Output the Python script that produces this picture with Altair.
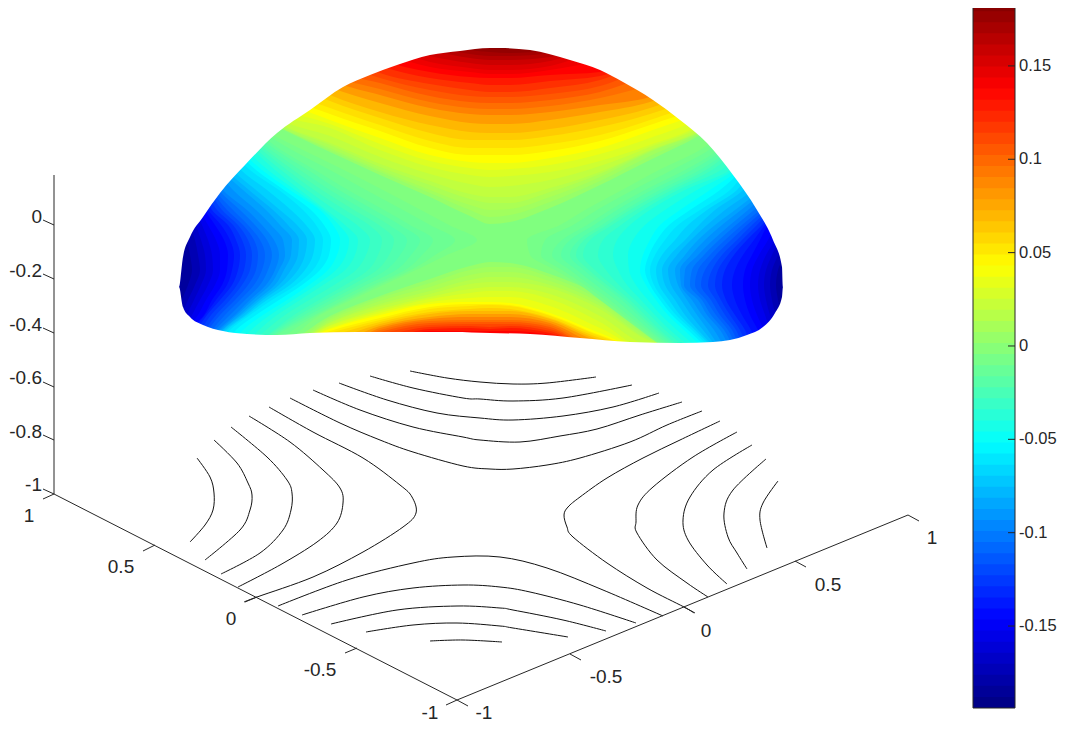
import altair as alt
import pandas as pd

FONT = "Liberation Sans"
INK = "#262626"

# ---- plane of the drawing (projected 3-D view) ----
X_DOM = [8, 1057]
Y_DOM = [722, 8]
xs = alt.Scale(domain=X_DOM, nice=False, zero=False)
ys = alt.Scale(domain=Y_DOM, nice=False, zero=False)

# ---- colour map (jet) and colour bar ----
Z_MIN, Z_MAX = -0.1939, 0.1853
jet_z = [-0.1939, -0.1465, -0.0517, 0.0431, 0.1379, 0.1853]
jet_c = ["#000080", "#0000ff", "#00ffff", "#ffff00", "#ff0000", "#800000"]
cs = alt.Scale(domain=jet_z, range=jet_c, interpolate="rgb", clamp=True)
cb_edges = [-.1939,-.1880,-.1820,-.1761,-.1702,-.1643,-.1584,-.1524,-.1465,-.1406,-.1347,-.1287,-.1228,
            -.1169,-.1110,-.1050,-.0991,-.0932,-.0873,-.0813,-.0754,-.0695,-.0636,-.0576,-.0517,-.0458,
            -.0399,-.0339,-.0280,-.0221,-.0162,-.0103,-.0043,.0016,.0075,.0134,.0194,.0253,.0312,.0371,
            .0431,.0490,.0549,.0608,.0668,.0727,.0786,.0845,.0905,.0964,.1023,.1082,.1142,.1201,.1260,
            .1319,.1379,.1438,.1497,.1556,.1615,.1675,.1734,.1793,.1853]
cb_ticks = [-0.15, -0.1, -0.05, 0, 0.05, 0.1, 0.15]
cb_labels = ["-0.15", "-0.1", "-0.05", "0", "0.05", "0.1", "0.15"]
CB_L, CB_R, CB_TICK = 973, 1015, 1008
CB_TEXT = 1019

# ---- silhouette of the surface ----
edge_top_x = [170,179,183,190,203,220,245,277,310,343,370,397,430,460,490,500,530,570,600,623,653,680,707,733,757,773,782,783,792]
edge_top_y = [287,287,257,237,217,193,165,133,110,87,75,65,55,51,48,48,50,60,70,82,100,120,143,175,210,240,267,287,287]
edge_bot_x = [170,179,183,190,203,223,247,277,310,357,403,453,490,530,580,630,680,713,747,763,775,782,783,792]
edge_bot_y = [287,287,307,317,325,331,334,335,333,332,332,332,333,334,338,342,343,342,335,327,313,297,287,287]
SADDLE_Z = -0.004

# ---- positive level regions, above and below the saddle ----
col_x = [179,230,280,330,380,430,470,490,510,550,600,650,700,750,783]
top_levels = [.004,.008,.012,.016,.02,.025,.03,.036,.043,.049,.055,.062,.07,.08,.09,.097,.105,.112,.12,.129,.138,.144,.15,.157,.165,.172,.178,.183]
top_y = [
 [70,100,128,152,175,197,216,224,222,208,185,160,135,100,60],
 [67,97,127,150,172,193,210,217,215,202,181,156,133,97,60],
 [65,95,127,148,170,190,205,210,209,197,177,152,132,95,60],
 [62,92,125,145,167,185,199,203,203,192,174,151,131,92,60],
 [60,90,124,143,164,181,194,197,197,188,172,150,130,90,60],
 [57,87,120,136,157,174,184,187,186,180,166,147,127,87,57],
 [55,85,115,128,150,167,175,177,176,172,161,145,125,85,55],
 [52,77,108,124,144,161,168,170,169,165,154,138,118,82,52],
 [50,70,100,120,138,155,162,163,163,158,148,131,112,80,50],
 [45,60,94,114,131,148,155,155,155,151,141,125,106,70,45],
 [40,50,88,108,125,141,148,148,148,144,135,120,100,60,40],
 [35,45,79,101,118,133,140,140,140,136,127,114,94,55,35],
 [30,40,70,95,112,125,132,133,133,129,120,108,88,50,30],
 [30,35,60,87,103,116,123,124,124,120,112,102,81,45,30],
 [30,30,50,80,95,108,114,115,115,112,105,97,75,40,30],
 [30,30,45,75,89,102,108,109,109,106,98,85,67,35,30],
 [30,30,40,70,83,96,102,103,103,100,92,75,60,30,30],
 [30,30,35,60,78,90,96,97,97,94,86,67,50,30,30],
 [30,30,30,50,73,84,90,92,92,88,80,60,40,30,30],
 [30,30,30,45,66,78,83,85,85,81,76,55,35,30,30],
 [30,30,30,40,60,72,77,78,78,75,72,50,30,30,30],
 [30,30,30,35,52,67,72,74,74,70,60,42,30,30,30],
 [30,30,30,30,45,62,68,70,70,66,50,35,30,30,30],
 [30,30,30,30,40,56,63,65,65,61,45,32,30,30,30],
 [30,30,30,30,35,50,58,60,60,57,40,30,30,30,30],
 [30,30,30,30,32,45,54,56,56,53,37,30,30,30,30],
 [30,30,30,30,30,40,50,52,53,50,35,30,30,30,30],
 [30,30,30,30,30,35,44,48,49,45,32,30,30,30,30],
]
bot_levels = [.004,.008,.012,.016,.02,.025,.03,.036,.043,.049,.055,.062,.07,.08,.09,.097,.105,.112,.12,.129,.138]
bot_y = [
 [350,350,345,316,296,279,266,262,263,274,296,332,350,350,350],
 [350,350,348,318,298,283,270,267,267,277,300,335,350,350,350],
 [350,350,350,320,301,287,275,272,272,281,303,338,350,350,350],
 [350,350,350,322,304,291,280,277,277,285,306,340,350,350,350],
 [350,350,350,323,306,294,284,282,282,288,309,341,350,350,350],
 [350,350,350,325,309,297,289,287,287,294,316,346,350,350,350],
 [350,350,350,326,311,299,293,291,291,299,322,350,350,350,350],
 [350,350,350,328,313,302,298,297,297,306,328,350,350,350,350],
 [350,350,350,329,315,304,302,302,303,313,333,350,350,350,350],
 [350,350,350,331,318,307,304,304,305,315,335,350,350,350,350],
 [350,350,350,333,320,309,306,305,306,316,336,350,350,350,350],
 [350,350,350,336,322,312,309,308,309,318,338,350,350,350,350],
 [350,350,350,340,324,314,311,311,311,319,340,350,350,350,350],
 [350,350,350,345,326,317,314,314,314,321,342,350,350,350,350],
 [350,350,350,350,328,319,317,317,317,323,345,350,350,350,350],
 [350,350,350,350,330,321,320,320,320,325,348,350,350,350,350],
 [350,350,350,350,332,323,322,322,322,327,350,350,350,350,350],
 [350,350,350,350,334,325,324,324,324,329,350,350,350,350,350],
 [350,350,350,350,337,327,326,327,326,331,350,350,350,350,350],
 [350,350,350,350,341,329,328,329,328,333,350,350,350,350,350],
 [350,350,350,350,345,331,331,331,331,335,350,350,350,350,350],
]

# ---- negative level regions, left and right of the saddle ----
row_y = [130,150,170,190,210,225,240,255,270,285,300,315,330,345]
side_levels = [-.008,-.0115,-.015,-.0185,-.022,-.026,-.03,-.035,-.04,-.046,-.052,-.058,-.063,-.069,-.075,-.081,
               -.087,-.093,-.099,-.105,-.11,-.116,-.122,-.128,-.135,-.141,-.1465,-.153,-.16,-.167,-.175,-.183]
left_x = [
 [263,303,344,383,421,449,477,447,416,383,351,320,301,285],
 [259,292,330,366,403,430,455,435,411,378,347,317,293,274],
 [255,281,315,348,384,410,433,422,405,373,343,314,285,262],
 [251,276,308,339,374,400,420,411,396,366,337,309,282,260],
 [247,271,300,330,364,389,407,400,386,359,331,304,279,258],
 [243,266,293,322,354,379,394,389,377,352,325,299,276,256],
 [240,262,287,314,345,369,382,378,368,345,319,294,274,255],
 [236,257,281,307,335,357,370,366,356,334,309,285,266,250],
 [232,253,275,300,326,345,358,355,345,323,300,277,259,246],
 [228,246,268,295,323,339,349,346,336,316,293,270,251,239],
 [225,240,262,290,320,333,340,337,328,309,287,263,243,232],
 [221,236,256,284,311,324,331,329,320,302,279,256,236,227],
 [218,232,250,279,303,316,323,321,313,296,272,250,230,222],
 [214,227,241,267,291,306,315,313,305,290,267,247,227,218],
 [210,222,233,256,280,297,307,305,298,284,263,245,225,215],
 [207,218,227,249,273,288,299,298,291,279,260,242,223,212],
 [205,215,222,243,266,280,292,291,284,275,257,240,222,210],
 [202,211,218,233,256,271,283,285,279,270,253,237,220,207],
 [200,208,214,223,247,262,274,279,275,266,250,235,218,205],
 [197,205,211,219,240,255,267,272,268,260,245,230,215,202],
 [195,203,208,215,233,248,260,265,262,254,240,225,212,200],
 [192,200,205,212,227,243,254,258,256,248,235,220,208,197],
 [190,198,203,210,222,238,248,252,250,242,230,216,205,195],
 [187,195,200,207,217,233,242,246,244,237,225,211,201,192],
 [185,193,198,205,212,228,236,240,238,232,220,207,197,190],
 [182,190,195,201,208,221,230,234,232,227,216,205,193,187],
 [180,188,193,198,205,215,224,228,227,222,212,204,190,185],
 [179,184,189,194,200,208,216,220,220,215,206,198,187,182],
 [179,180,185,190,196,202,208,212,213,208,200,192,185,180],
 [179,179,182,185,190,196,201,205,206,201,194,187,182,179],
 [179,179,179,180,185,190,195,198,200,195,188,182,179,179],
 [179,179,179,179,180,183,187,190,192,188,182,179,179,179],
]
right_x = [
 [725,700,659,622,585,560,527,530,555,580,600,620,640,660],
 [730,709,672,633,597,573,545,541,562,585,605,624,643,663],
 [735,718,685,645,610,587,562,552,570,590,610,628,647,666],
 [737,723,692,652,617,594,570,561,577,596,616,633,650,669],
 [740,728,700,660,625,602,579,570,584,603,622,638,654,672],
 [742,731,706,666,630,607,584,576,589,607,626,641,657,675],
 [745,735,712,672,636,612,590,583,595,612,630,645,660,678],
 [747,738,721,678,643,621,603,598,606,619,635,650,665,683],
 [750,742,730,685,650,630,617,613,618,627,641,655,670,688],
 [752,746,734,697,665,645,633,628,629,636,648,661,677,694],
 [755,750,738,710,680,660,650,643,640,646,656,668,684,700],
 [757,752,741,720,690,669,657,649,645,650,660,672,688,704],
 [760,755,745,730,700,678,665,655,650,654,664,676,692,707],
 [762,757,748,737,707,688,675,662,656,659,669,680,695,710],
 [765,760,752,743,715,699,685,670,662,665,675,685,698,712],
 [770,767,763,752,725,707,691,677,668,671,681,691,703,715],
 [775,775,775,760,735,715,698,685,675,678,687,697,708,718],
 [777,777,777,765,741,722,705,691,680,681,692,702,714,723],
 [780,780,780,770,748,730,713,698,685,684,698,707,720,728],
 [783,783,783,777,754,736,719,704,692,690,702,711,724,732],
 [783,783,783,783,760,742,725,710,698,695,706,716,728,735],
 [783,783,783,783,764,747,731,716,705,701,711,720,732,738],
 [783,783,783,783,768,752,737,722,712,708,716,725,736,742],
 [783,783,783,783,771,757,742,728,718,715,721,730,740,746],
 [783,783,783,783,775,762,747,734,725,722,726,735,745,750],
 [783,783,783,783,779,765,754,743,735,732,735,742,751,757],
 [783,783,783,783,783,768,760,752,745,743,745,750,758,765],
 [783,783,783,783,783,776,768,759,752,750,752,757,764,770],
 [783,783,783,783,783,783,775,766,760,758,760,765,770,775],
 [783,783,783,783,783,783,779,772,766,764,766,770,776,779],
 [783,783,783,783,783,783,783,778,772,770,772,776,783,783],
 [783,783,783,783,783,783,783,783,778,776,778,781,783,783],
]

# ---- contour lines on the floor ----
contours = [
 [(410,371),(447,378),(480,382),(513,384),(547,383),(596,377)],
 [(370,376),(413,388),(463,398),(480,399),(513,401),(563,398),(632,385)],
 [(339,383),(387,400),(437,413),(480,418),(513,420),(563,416),(613,407),(659,393)],
 [(313,390),(360,410),(413,427),(463,437),(480,440),(520,442),(560,436),(597,429),(640,415),(682,402)],
 [(290,398),(340,423),(380,440),(413,452),(463,466),(490,469),(513,469),(547,465),(580,458),(630,442),(667,425),(702,411)],
 [(269,407),(313,432),(363,458),(400,485),(412,497),(416,513),(403,527),(363,552),(313,577),(257,597),(244,602)],
 [(249,416),(290,442),(323,470),(340,488),(343,503),(337,523),(317,542),(280,565),(238,587)],
 [(231,427),(267,457),(287,480),(292,493),(291,510),(283,530),(260,553),(221,574)],
 [(214,440),(237,463),(248,483),(252,495),(250,510),(240,530),(205,560)],
 [(197,458),(210,477),(214,493),(213,510),(205,525),(190,542)],
 [(720,421),(680,440),(643,458),(607,478),(580,497),(568,507),(564,515),(567,527),(573,537),(607,563),(647,588),(684,607),(694,613)],
 [(737,432),(693,457),(653,487),(638,505),(636,522),(637,533),(657,560),(687,583),(708,597)],
 [(752,445),(713,470),(690,497),(683,520),(688,540),(707,565),(727,584)],
 [(766,459),(733,490),(724,513),(728,537),(737,553),(747,569)],
 [(778,481),(763,503),(760,520),(767,548)],
 [(278,606),(347,580),(413,563),(453,557),(500,557),(547,568),(603,590),(663,616)],
 [(302,615),(363,597),(413,588),(463,585),(500,587),(530,592),(580,605),(636,623)],
 [(331,624),(397,610),(457,606),(500,608),(513,610),(563,620),(606,631)],
 [(366,632),(413,625),(457,623),(500,626),(513,628),(568,637)],
 [(430,641),(463,640),(502,642)],
]

# ---- projected axes ----
axis_segments = [
 [(54,175),(54,494)], [(54,494),(457,700)], [(457,700),(908,515)],
 [(54,225),(43,220)], [(54,279),(43,274)], [(54,333),(43,328)], [(54,387),(43,382)], [(54,440),(43,435)], [(54,494),(43,489)],
 [(54,494),(43,499)], [(155,545),(143,551)], [(257,597),(245,602)], [(357,648),(345,653)], [(457,700),(446,705)],
 [(457,700),(468,706)], [(570,654),(581,660)], [(684,607),(695,613)], [(795,561),(806,567)], [(908,515),(919,521)],
]
axis_labels = ["0","-0.2","-0.4","-0.6","-0.8","-1"]
axis_label_y = [217,271,325,378,432,485]
AXIS_LABEL_X = 42
floor_labels = ["1","0.5","0","-0.5","-1","-1","-0.5","0","0.5","1"]
floor_label_x = [29,121,231,320,430,484,606,706,828,932]
floor_label_y = [516,567,619,670,713,713,677,631,585,538]


def frame(levels, fixed, table, fixed_name, var_name):
    rows = []
    for lev, vals in zip(levels, table):
        for a, b in zip(fixed, vals):
            rows.append({"z": lev, fixed_name: a, var_name: b})
    return pd.DataFrame(rows)


def vertical_regions(df):
    return alt.Chart(df).mark_area(interpolate="monotone", opacity=1).encode(
        x=alt.X("px:Q", scale=xs, axis=None),
        y=alt.Y("py:Q", scale=ys, axis=None),
        y2=alt.Y2("edge:Q"),
        detail="z:Q",
        color=alt.Color("z:Q", scale=cs, legend=None),
    )


def horizontal_regions(df):
    return alt.Chart(df).mark_area(interpolate="monotone", orient="horizontal", opacity=1).encode(
        y=alt.Y("py:Q", scale=ys, axis=None),
        x=alt.X("px:Q", scale=xs, axis=None),
        x2=alt.X2("edge:Q"),
        detail="z:Q",
        color=alt.Color("z:Q", scale=cs, legend=None),
    )


base = alt.Chart(pd.DataFrame({"a": [179], "b": [783], "c": [30], "d": [352], "z": [SADDLE_Z]})).mark_rect().encode(
    x=alt.X("a:Q", scale=xs, axis=None), x2="b:Q",
    y=alt.Y("c:Q", scale=ys, axis=None), y2="d:Q",
    color=alt.Color("z:Q", scale=cs, legend=None),
)

top_df = frame(top_levels, col_x, top_y, "px", "py").assign(edge=25)
bot_df = frame(bot_levels, col_x, bot_y, "px", "py").assign(edge=352)
left_df = frame(side_levels, row_y, left_x, "py", "px").assign(edge=179)
right_df = frame(side_levels, row_y, right_x, "py", "px").assign(edge=783)

mask_top = alt.Chart(pd.DataFrame({"px": edge_top_x, "py": edge_top_y, "edge": 20})).mark_area(
    color="white", interpolate="monotone").encode(
    x=alt.X("px:Q", scale=xs, axis=None), y=alt.Y("py:Q", scale=ys, axis=None), y2="edge:Q")
mask_bot = alt.Chart(pd.DataFrame({"px": edge_bot_x, "py": edge_bot_y, "edge": 356})).mark_area(
    color="white", interpolate="monotone").encode(
    x=alt.X("px:Q", scale=xs, axis=None), y=alt.Y("py:Q", scale=ys, axis=None), y2="edge:Q")

c_rows = []
for i, line in enumerate(contours):
    for j, (a, b) in enumerate(line):
        c_rows.append({"id": i, "o": j, "px": a, "py": b})
contour_layer = alt.Chart(pd.DataFrame(c_rows)).mark_line(color="#111111", strokeWidth=1, interpolate="cardinal").encode(
    x=alt.X("px:Q", scale=xs, axis=None), y=alt.Y("py:Q", scale=ys, axis=None), detail="id:N", order="o:Q")

a_rows = []
for i, seg in enumerate(axis_segments):
    for j, (a, b) in enumerate(seg):
        a_rows.append({"id": i, "o": j, "px": a, "py": b})
axis_layer = alt.Chart(pd.DataFrame(a_rows)).mark_line(color=INK, strokeWidth=1).encode(
    x=alt.X("px:Q", scale=xs, axis=None), y=alt.Y("py:Q", scale=ys, axis=None), detail="id:N", order="o:Q")

z_text = alt.Chart(pd.DataFrame({"t": axis_labels, "py": axis_label_y, "px": AXIS_LABEL_X})).mark_text(
    font=FONT, fontSize=19, color=INK, align="right", baseline="middle").encode(
    x=alt.X("px:Q", scale=xs, axis=None), y=alt.Y("py:Q", scale=ys, axis=None), text="t:N")
floor_text = alt.Chart(pd.DataFrame({"t": floor_labels, "py": floor_label_y, "px": floor_label_x})).mark_text(
    font=FONT, fontSize=19, color=INK, align="center", baseline="middle").encode(
    x=alt.X("px:Q", scale=xs, axis=None), y=alt.Y("py:Q", scale=ys, axis=None), text="t:N")

# colour bar, on its own value scale; each cell runs up to the top so no seams show
zs = alt.Scale(domain=[Z_MIN, Z_MAX], range=[700, -8], nice=False, zero=False)
cb_df = pd.DataFrame({
    "lo": cb_edges[:-1], "hi": Z_MAX,
    "z": [(a + b) / 2 for a, b in zip(cb_edges[:-1], cb_edges[1:])],
    "l": CB_L, "r": CB_R,
})
cb_cells = alt.Chart(cb_df).mark_rect().encode(
    x=alt.X("l:Q", scale=xs, axis=None), x2="r:Q",
    y=alt.Y("lo:Q", scale=zs, axis=None), y2="hi:Q",
    color=alt.Color("z:Q", scale=cs, legend=None),
)
cb_frame = alt.Chart(pd.DataFrame({"l": [CB_L], "r": [CB_R], "lo": [Z_MIN], "hi": [Z_MAX]})).mark_rect(
    filled=False, stroke=INK, strokeWidth=1).encode(
    x=alt.X("l:Q", scale=xs, axis=None), x2="r:Q",
    y=alt.Y("lo:Q", scale=zs, axis=None), y2="hi:Q",
)
cb_tick = alt.Chart(pd.DataFrame({"v": cb_ticks, "a": CB_TICK, "b": CB_R})).mark_rule(color=INK, strokeWidth=1).encode(
    x=alt.X("a:Q", scale=xs, axis=None), x2="b:Q", y=alt.Y("v:Q", scale=zs, axis=None))
cb_text = alt.Chart(pd.DataFrame({"v": cb_ticks, "t": cb_labels, "a": CB_TEXT})).mark_text(
    font=FONT, fontSize=16.5, color=INK, align="left", baseline="middle").encode(
    x=alt.X("a:Q", scale=xs, axis=None), y=alt.Y("v:Q", scale=zs, axis=None), text="t:N")

chart = alt.layer(
    base,
    vertical_regions(top_df),
    vertical_regions(bot_df),
    horizontal_regions(left_df),
    horizontal_regions(right_df),
    mask_top, mask_bot,
    contour_layer, axis_layer, z_text, floor_text,
    cb_cells, cb_frame, cb_tick, cb_text,
).resolve_scale(y="independent").properties(
    width=1049, height=714, padding=0, background="white",
    autosize=alt.AutoSizeParams(type="none"),
).configure_view(stroke=None)

chart.save("out.html", embed_options={"renderer": "svg", "actions": False})
